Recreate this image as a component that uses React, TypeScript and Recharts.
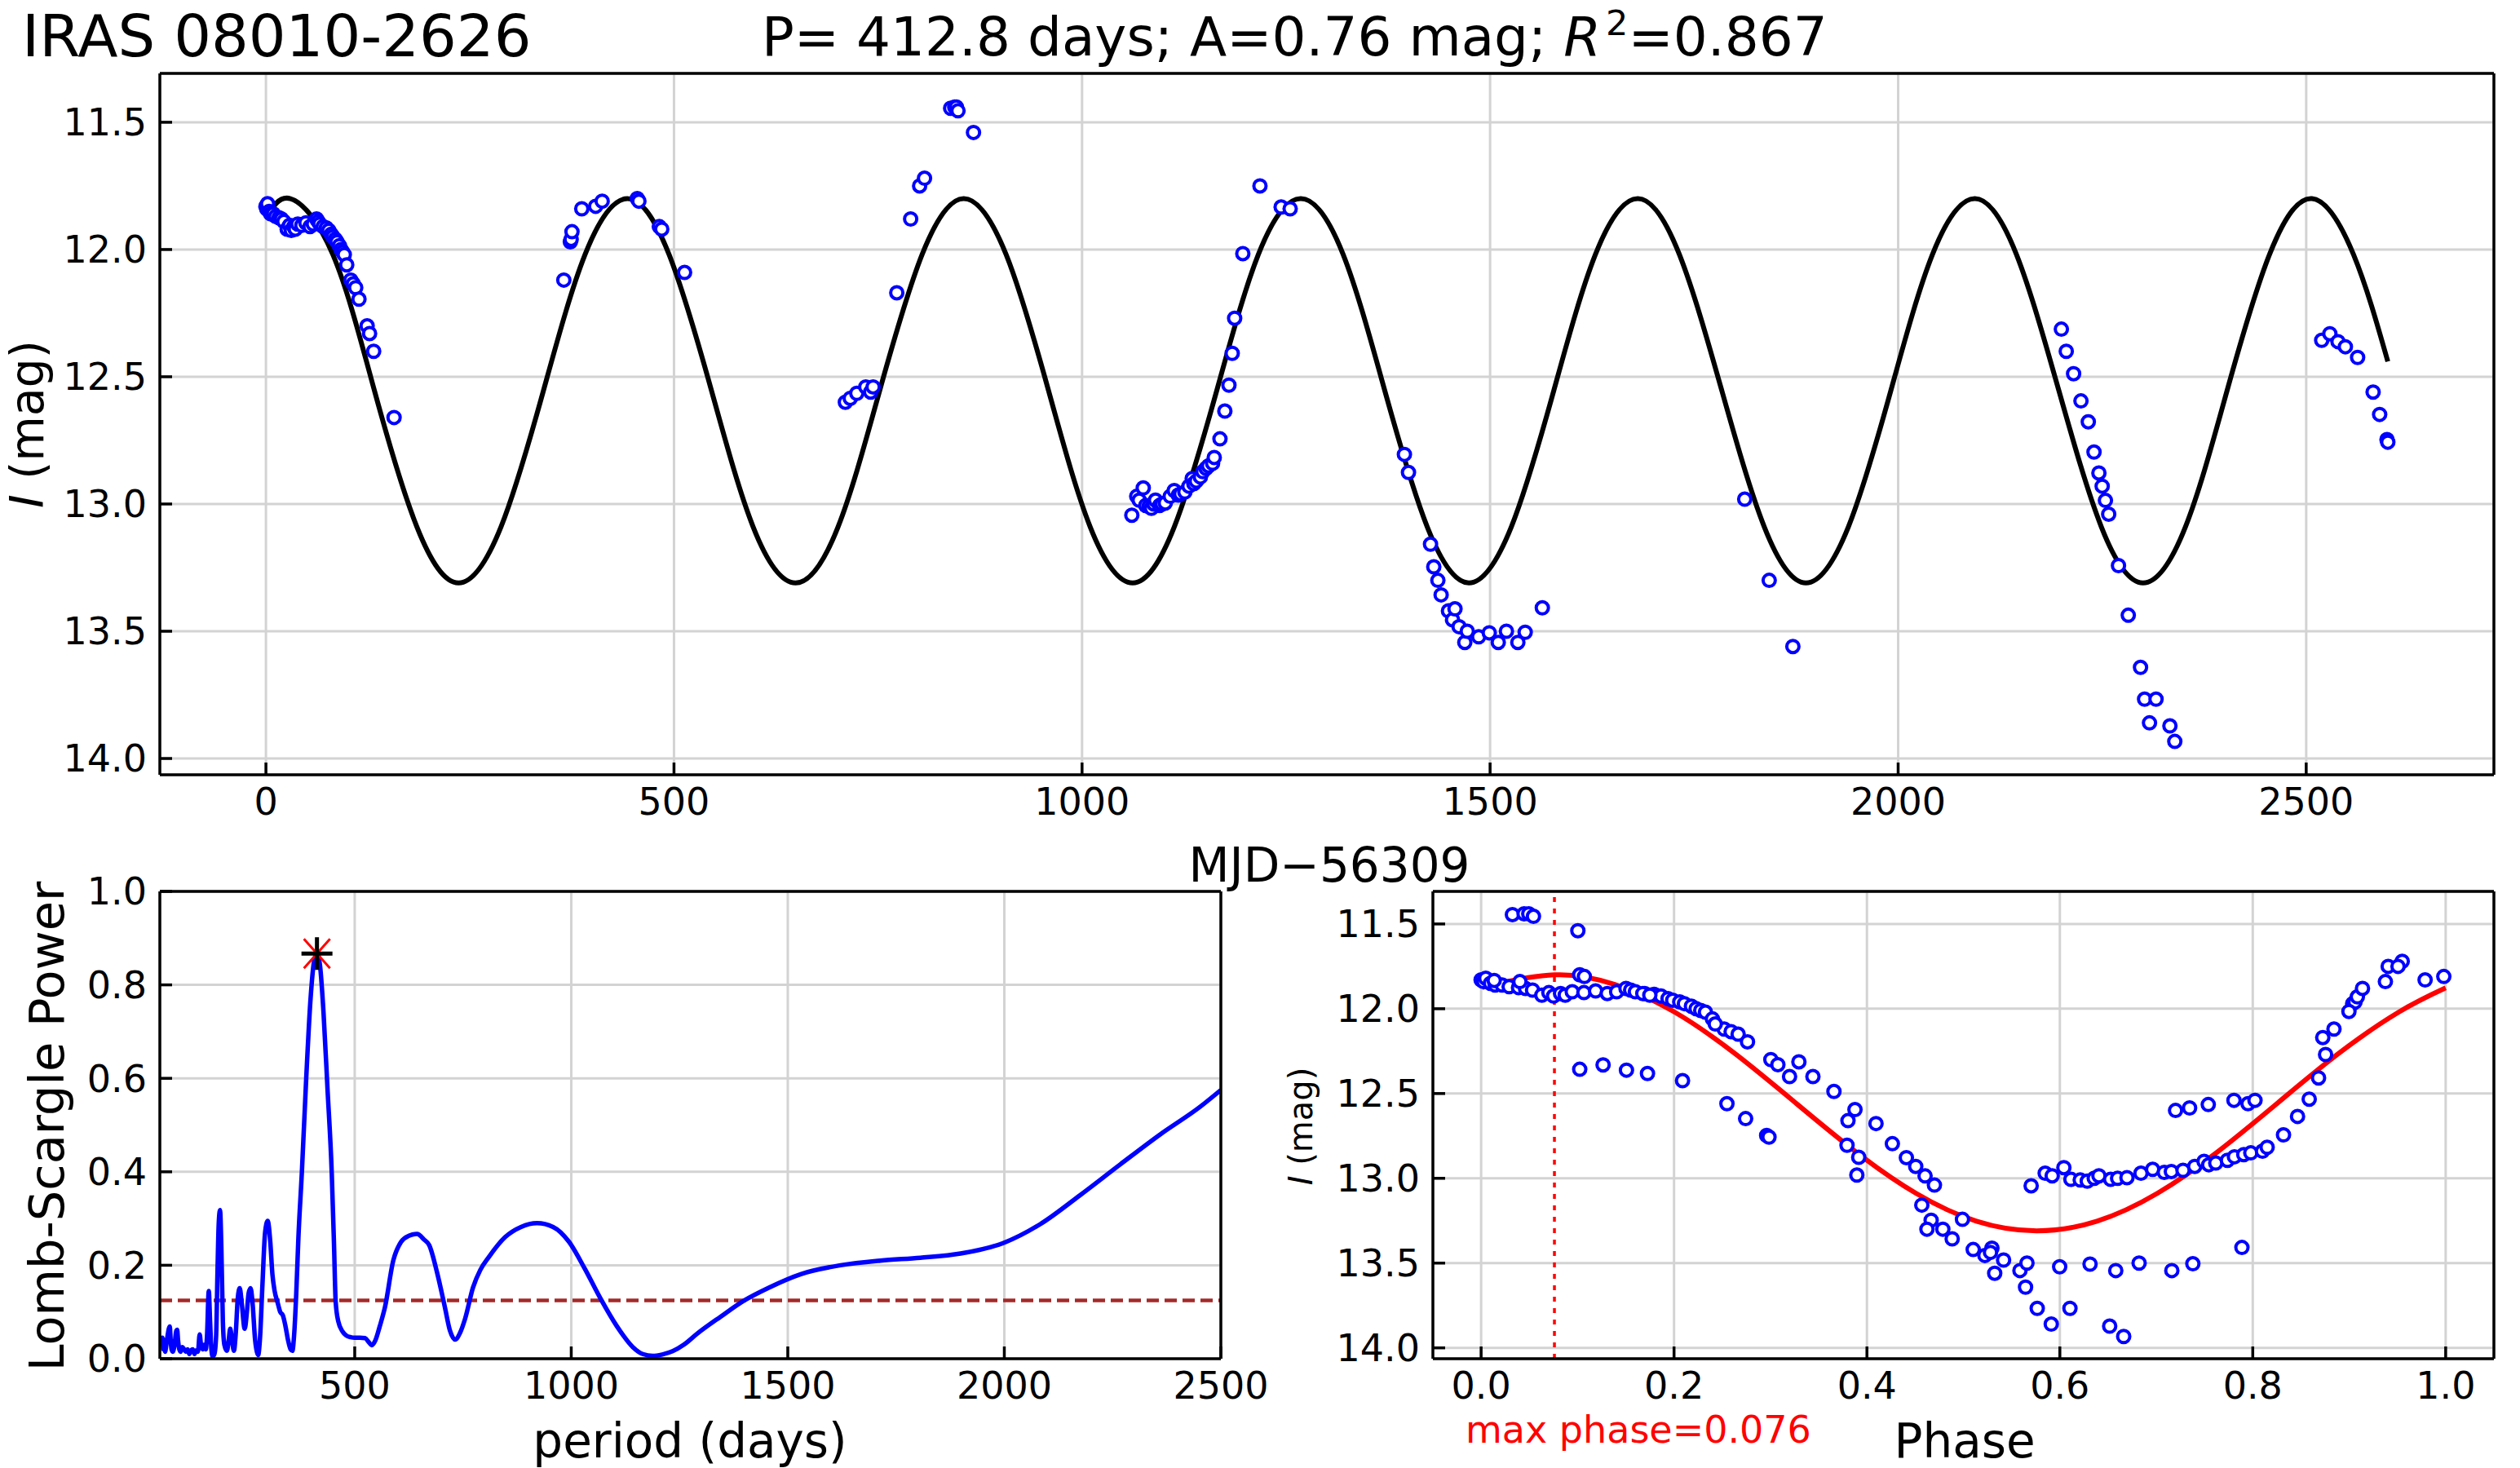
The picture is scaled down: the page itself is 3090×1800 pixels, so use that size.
import React from "react";
import {
  ComposedChart,
  Line,
  Scatter,
  XAxis,
  YAxis,
  CartesianGrid,
  ReferenceLine,
} from "recharts";

const FONT = "'DejaVu Sans', sans-serif";
const PERIOD = 412.8;

// observed I-band magnitudes, [MJD-56309, mag], one array per observing season
const season1: [number, number][] = [
  [0, 11.83], [1, 11.84], [2, 11.82], [4, 11.85], [6, 11.86], [9, 11.86], [12, 11.87],
  [16, 11.875], [19, 11.88], [22, 11.89], [26, 11.92], [29, 11.905], [31, 11.925],
  [34, 11.91], [36, 11.92], [39, 11.9], [44, 11.905], [49, 11.895], [54, 11.91],
  [58, 11.9], [62, 11.88], [64, 11.89], [66, 11.9], [70, 11.91], [74, 11.915],
  [77, 11.925], [80, 11.94], [82, 11.95], [85, 11.96], [87, 11.97], [90, 11.985],
  [92, 12.0], [94, 12.01], [96, 12.02], [99, 12.06], [104, 12.12], [107, 12.135],
  [110, 12.15], [114, 12.195], [124, 12.3], [127, 12.33], [132, 12.4], [157, 12.66],
];
const season2: [number, number][] = [
  [365, 12.12], [373, 11.97], [374, 11.96], [375, 11.93], [387, 11.84], [404, 11.83],
  [412, 11.81], [455, 11.8], [457, 11.81], [482, 11.91], [485, 11.92], [513, 12.09],
];
const season3: [number, number][] = [
  [710, 12.6], [716, 12.585], [724, 12.565], [735, 12.54], [741, 12.56], [744, 12.54],
  [773, 12.17], [790, 11.88], [801, 11.75], [807, 11.72], [839, 11.445], [844, 11.44],
  [846, 11.44], [848, 11.455], [867, 11.54],
];
const season4: [number, number][] = [
  [1061, 13.044], [1067, 12.97], [1070, 12.985], [1075, 12.937], [1078, 13.006],
  [1082, 13.01], [1085, 13.017], [1088, 13.0], [1090, 12.985], [1095, 13.006],
  [1098, 13.0], [1102, 12.996], [1108, 12.97], [1113, 12.947], [1118, 12.965],
  [1121, 12.96], [1126, 12.953], [1131, 12.93], [1135, 12.9], [1137, 12.92],
  [1140, 12.91], [1145, 12.894], [1148, 12.873], [1152, 12.86], [1155, 12.85],
  [1160, 12.84], [1162, 12.817], [1169, 12.744], [1175, 12.635], [1180, 12.533],
  [1184, 12.408], [1187, 12.27], [1197, 12.016], [1218, 11.75], [1244, 11.833],
  [1255, 11.84],
];
const season5: [number, number][] = [
  [1395, 12.805], [1400, 12.876], [1427, 13.158], [1431, 13.247], [1436, 13.3],
  [1440, 13.357], [1449, 13.42], [1454, 13.455], [1457, 13.412], [1462, 13.482],
  [1469, 13.544], [1472, 13.5], [1486, 13.522], [1499, 13.506], [1510, 13.544],
  [1520, 13.5], [1534, 13.544], [1543, 13.504], [1564, 13.408],
];
const season6: [number, number][] = [[1812, 12.981], [1842, 13.3], [1871, 13.56]];
const season7: [number, number][] = [
  [2200, 12.313], [2206, 12.4], [2215, 12.488], [2224, 12.595], [2233, 12.677],
  [2240, 12.796], [2246, 12.878], [2250, 12.93], [2254, 12.986], [2258, 13.04],
  [2270, 13.242], [2282, 13.437], [2297, 13.642], [2302, 13.767], [2308, 13.86],
  [2316, 13.767], [2333, 13.872], [2339, 13.933],
];
const season8: [number, number][] = [
  [2519, 12.357], [2529, 12.331], [2539, 12.362], [2548, 12.382], [2563, 12.424],
  [2582, 12.56], [2590, 12.648], [2599, 12.747], [2600, 12.757],
];

// fitted sinusoid, [day, mag]
const sineFit: [number, number][] = [
  [0, 11.88], [30, 11.8], [82, 12.02], [133, 12.555], [185, 13.09], [236, 13.31],
  [288, 13.09], [340, 12.555], [391, 12.02], [443, 11.8], [494, 12.02], [546, 12.555],
  [597, 13.09], [649, 13.31], [701, 13.09], [752, 12.555], [804, 12.02], [855, 11.8],
  [907, 12.02], [959, 12.555], [1010, 13.09], [1062, 13.31], [1113, 13.09], [1165, 12.555],
  [1216, 12.02], [1268, 11.8], [1320, 12.02], [1371, 12.555], [1423, 13.09], [1474, 13.31],
  [1526, 13.09], [1578, 12.555], [1629, 12.02], [1681, 11.8], [1732, 12.02], [1784, 12.555],
  [1836, 13.09], [1887, 13.31], [1939, 13.09], [1991, 12.555], [2042, 12.02], [2094, 11.8],
  [2145, 12.02], [2197, 12.555], [2249, 13.09], [2300, 13.31], [2352, 13.09], [2403, 12.555],
  [2455, 12.02], [2507, 11.8], [2558, 12.02], [2600, 12.44],
];

// phase-folded fit, [phase, mag]
const phaseFit: [number, number][] = [
  [0, 11.877], [0.0135, 11.857], [0.076, 11.8], [0.1385, 11.857], [0.201, 12.021],
  [0.2635, 12.266], [0.326, 12.555], [0.3885, 12.844], [0.451, 13.089], [0.5135, 13.253],
  [0.576, 13.31], [0.6385, 13.253], [0.701, 13.089], [0.7635, 12.844], [0.826, 12.555],
  [0.8885, 12.266], [0.951, 12.021], [1.0, 11.877],
];
const MAX_PHASE = 0.076;

// Lomb-Scargle periodogram, [period (days), power]
const periodogram: [number, number][] = [
  [50, 0.035], [52, 0.045], [54, 0.03], [56, 0.045], [58, 0.02], [60, 0.04], [62, 0.015],
  [65, 0.03], [68, 0.05], [71, 0.065], [73, 0.069], [75, 0.04], [77, 0.02], [80, 0.015],
  [84, 0.03], [88, 0.06], [90, 0.062], [92, 0.04], [95, 0.02], [98, 0.015], [102, 0.025],
  [106, 0.02], [110, 0.015], [114, 0.02], [118, 0.01], [122, 0.018], [126, 0.02],
  [130, 0.01], [134, 0.018], [138, 0.015], [142, 0.052], [145, 0.03], [149, 0.02],
  [153, 0.03], [156, 0.02], [159, 0.05], [163, 0.145], [166, 0.08], [169, 0.02],
  [172, 0.005], [176, 0.01], [180, 0.05], [183, 0.18], [186, 0.29], [189, 0.318],
  [192, 0.24], [195.5, 0.08], [199, 0.03], [205, 0.017], [209, 0.04], [212.5, 0.064],
  [216, 0.045], [221, 0.017], [225, 0.05], [230, 0.13], [234.5, 0.151], [239, 0.12],
  [246, 0.064], [251, 0.1], [255, 0.14], [259.5, 0.151], [264, 0.12], [270, 0.04],
  [274, 0.015], [277, 0.008], [281, 0.04], [287, 0.16], [293, 0.27], [299, 0.295],
  [305, 0.25], [310, 0.18], [315, 0.145], [322, 0.12], [328, 0.1], [334, 0.093],
  [340, 0.07], [346, 0.04], [352, 0.02], [356, 0.017], [360, 0.05], [365, 0.14],
  [370, 0.26], [378, 0.4], [388, 0.6], [398, 0.77], [406, 0.85], [413, 0.868],
  [420, 0.84], [428, 0.74], [437, 0.58], [447, 0.396], [452, 0.25], [456, 0.122],
  [462, 0.08], [472, 0.058], [480, 0.05], [491, 0.046], [500, 0.045], [512, 0.045],
  [524, 0.044], [532, 0.036], [539, 0.029], [548, 0.04], [558, 0.07], [570, 0.111],
  [589, 0.21], [607, 0.25], [625, 0.263], [644, 0.267], [660, 0.255], [672, 0.243],
  [690, 0.185], [708, 0.111], [720, 0.06], [732, 0.041], [743, 0.055], [755, 0.086],
  [773, 0.152], [790, 0.19], [810, 0.218], [847, 0.26], [884, 0.282], [921, 0.29],
  [958, 0.282], [995, 0.25], [1031, 0.193], [1068, 0.128], [1105, 0.07], [1142, 0.025],
  [1165, 0.01], [1188, 0.006], [1210, 0.009], [1234, 0.016], [1260, 0.03], [1290, 0.053],
  [1345, 0.09], [1400, 0.125], [1456, 0.152], [1530, 0.181], [1622, 0.2], [1714, 0.21],
  [1806, 0.216], [1899, 0.225], [1996, 0.247], [2083, 0.288], [2175, 0.35], [2268, 0.416],
  [2360, 0.48], [2452, 0.539], [2500, 0.575],
];
const bestPeak: [number, number] = [412.8, 0.867];
const fapLevel = 0.125;

const magTicks = [11.5, 12.0, 12.5, 13.0, 13.5, 14.0];
const dayTicks = [0, 500, 1000, 1500, 2000, 2500];
const periodTicks = [500, 1000, 1500, 2000, 2500];
const powerTicks = [0, 0.2, 0.4, 0.6, 0.8, 1.0];
const phaseTicks = [0, 0.2, 0.4, 0.6, 0.8, 1.0];

const magDomain: [number, number] = [11.308, 14.064];

const allObs = [...season1, ...season2, ...season3, ...season4, ...season5, ...season6, ...season7, ...season8];
const lightCurve = allObs.map(([t, mag]) => ({ t, mag }));
const fitCurve = sineFit.map(([t, mag]) => ({ t, mag }));
const folded = allObs.map(([t, mag]) => ({ phase: (t / PERIOD) % 1, mag }));
const foldedFit = phaseFit.map(([phase, mag]) => ({ phase, mag }));
const lsCurve = periodogram.map(([p, power]) => ({ p, power }));
const peakPoint = [{ p: bestPeak[0], power: bestPeak[1] }];

const axisLine = { stroke: "#000", strokeWidth: 3.5 };
const tickLine = { stroke: "#000", strokeWidth: 3.5 };
const tickText = { fontSize: 46, fill: "#000", fontFamily: FONT };

const Circle = (props: any) => {
  const { cx, cy } = props;
  if (cx == null || cy == null) return null;
  return <circle cx={cx} cy={cy} r={7.5} fill="#fff" stroke="#0000ff" strokeWidth={4} />;
};

const PeakMarker = (props: any) => {
  const { cx, cy } = props;
  if (cx == null || cy == null) return null;
  return (
    <g>
      <line x1={cx - 16} y1={cy - 18} x2={cx + 16} y2={cy + 18} stroke="#ff0000" strokeWidth={3} />
      <line x1={cx - 16} y1={cy + 18} x2={cx + 16} y2={cy - 18} stroke="#ff0000" strokeWidth={3} />
      <line x1={cx - 19} y1={cy} x2={cx + 19} y2={cy} stroke="#000" strokeWidth={5} />
      <line x1={cx} y1={cy - 20} x2={cx} y2={cy + 20} stroke="#000" strokeWidth={5} />
    </g>
  );
};

// frame with inward ticks on all four sides
function frame(
  xKey: string,
  xDomain: [number, number],
  xTicks: number[],
  fmtX: (v: number) => string,
  yDomain: [number, number],
  yTicks: number[],
  fmtY: (v: number) => string,
  reversed: boolean,
  yWidth: number
) {
  return [
    <XAxis
      key="xb"
      type="number"
      dataKey={xKey}
      domain={xDomain}
      allowDataOverflow
      ticks={xTicks}
      interval={0}
      tickFormatter={fmtX}
      tick={tickText}
      tickSize={-15}
      tickMargin={31}
      axisLine={axisLine}
      tickLine={tickLine}
      height={60}
    />,
    <XAxis
      key="xt"
      xAxisId="top"
      orientation="top"
      type="number"
      domain={xDomain}
      allowDataOverflow
      ticks={xTicks}
      interval={0}
      tick={false}
      tickSize={-15}
      axisLine={axisLine}
      tickLine={tickLine}
      height={1}
    />,
    <YAxis
      key="yl"
      type="number"
      domain={yDomain}
      allowDataOverflow
      reversed={reversed}
      ticks={yTicks}
      interval={0}
      tickFormatter={fmtY}
      tick={tickText}
      tickSize={-15}
      tickMargin={31}
      axisLine={axisLine}
      tickLine={tickLine}
      width={yWidth}
    />,
    <YAxis
      key="yr"
      yAxisId="right"
      orientation="right"
      type="number"
      domain={yDomain}
      allowDataOverflow
      reversed={reversed}
      ticks={yTicks}
      interval={0}
      tick={false}
      tickSize={-15}
      axisLine={axisLine}
      tickLine={tickLine}
      width={1}
    />,
  ];
}

const one = (v: number) => v.toFixed(1);
const int = (v: number) => String(v);

export default function App() {
  return (
    <div
      style={{
        position: "absolute",
        left: 0,
        top: 0,
        width: 3090,
        height: 1800,
        background: "#fff",
        overflow: "hidden",
        fontFamily: FONT,
      }}
    >
      {/* light curve */}
      <div style={{ position: "absolute", left: 0, top: 0 }}>
        <ComposedChart width={3090} height={1040} margin={{ top: 89, right: 31, bottom: 30, left: 0 }}>
          <CartesianGrid stroke="#d3d3d3" strokeWidth={3} />
          {frame("t", [-130, 2730], dayTicks, int, magDomain, magTicks, one, true, 196)}
          <Line
            data={fitCurve}
            dataKey="mag"
            type="natural"
            stroke="#000"
            strokeWidth={6}
            dot={false}
            activeDot={false}
            isAnimationActive={false}
          />
          <Scatter data={lightCurve} dataKey="mag" shape={Circle} isAnimationActive={false} />
        </ComposedChart>
      </div>

      {/* periodogram */}
      <div style={{ position: "absolute", left: 0, top: 1000 }}>
        <ComposedChart width={1600} height={800} margin={{ top: 92, right: 102, bottom: 74, left: 0 }}>
          <CartesianGrid stroke="#d3d3d3" strokeWidth={3} />
          {frame("p", [50, 2500], periodTicks, int, [0, 1], powerTicks, one, false, 196)}
          <ReferenceLine y={fapLevel} stroke="#a52a2a" strokeWidth={4.5} strokeDasharray="15 7" />
          <Line
            data={lsCurve}
            dataKey="power"
            type="monotone"
            stroke="#0000ff"
            strokeWidth={5.5}
            dot={false}
            activeDot={false}
            isAnimationActive={false}
          />
          <Scatter data={peakPoint} dataKey="power" shape={PeakMarker} isAnimationActive={false} />
        </ComposedChart>
      </div>

      {/* phased light curve */}
      <div style={{ position: "absolute", left: 1540, top: 1000 }}>
        <ComposedChart width={1550} height={800} margin={{ top: 92, right: 31, bottom: 74, left: 0 }}>
          <CartesianGrid stroke="#d3d3d3" strokeWidth={3} />
          {frame("phase", [-0.05, 1.05], phaseTicks, one, magDomain, magTicks, one, true, 217)}
          <ReferenceLine x={MAX_PHASE} stroke="#ff0000" strokeWidth={3.5} strokeDasharray="6 8" />
          <Line
            data={foldedFit}
            dataKey="mag"
            type="natural"
            stroke="#ff0000"
            strokeWidth={6}
            dot={false}
            activeDot={false}
            isAnimationActive={false}
          />
          <Scatter data={folded} dataKey="mag" shape={Circle} isAnimationActive={false} />
        </ComposedChart>
      </div>

      {/* titles and axis labels */}
      <svg
        width={3090}
        height={1800}
        style={{ position: "absolute", left: 0, top: 0, pointerEvents: "none" }}
        fontFamily={FONT}
      >
        <text x={27} y={69} fontSize={72} fill="#000">IRAS 08010-2626</text>
        <text x={934} y={68} fontSize={66} fill="#000">
          {"P= 412.8 days; A=0.76 mag; "}
          <tspan fontStyle="italic">R</tspan>
          <tspan dx={6} dy={-25} fontSize={43}>2</tspan>
          <tspan dy={25}>{"=0.867"}</tspan>
        </text>
        <text transform="translate(53,520) rotate(-90)" textAnchor="middle" fontSize={57} fill="#000">
          <tspan fontStyle="italic">I</tspan>
          {" (mag)"}
        </text>
        <text x={1630} y={1081} textAnchor="middle" fontSize={58} fill="#000">
          MJD−56309
        </text>
        <text transform="translate(78,1381) rotate(-90)" textAnchor="middle" fontSize={59} fill="#000">
          Lomb-Scargle Power
        </text>
        <text x={846} y={1787} textAnchor="middle" fontSize={58} fill="#000">
          period (days)
        </text>
        <text transform="translate(1609,1381) rotate(-90)" textAnchor="middle" fontSize={40} fill="#000">
          <tspan fontStyle="italic">I</tspan>
          {" (mag)"}
        </text>
        <text x={2409} y={1787} textAnchor="middle" fontSize={58} fill="#000">
          Phase
        </text>
        <text x={1797} y={1769} fontSize={46} fill="#ff0000">
          max phase=0.076
        </text>
      </svg>
    </div>
  );
}
